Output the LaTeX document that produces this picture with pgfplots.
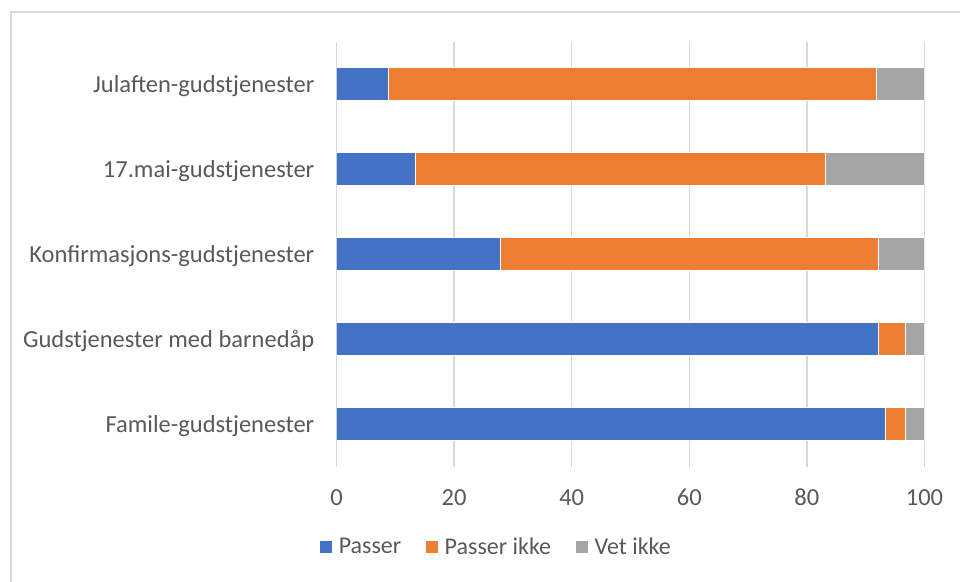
\documentclass[border=0pt]{standalone}
\usepackage{pgfplots}
\pgfplotsset{compat=1.18}
\usepackage{fontspec}
\setmainfont{Carlito}
\definecolor{cblue}{HTML}{4472C4}
\definecolor{corange}{HTML}{ED7D31}
\definecolor{cgray}{HTML}{A5A5A5}
\definecolor{gridgray}{HTML}{D9D9D9}
\definecolor{textgray}{HTML}{595959}
\begin{document}
\begin{tikzpicture}[x=1pt,y=1pt]
\useasboundingbox (0,0) rectangle (960,581);
\draw[color=gridgray, line width=2pt] (10.5,-20) -- (10.5,569) -- (1000,569);
\begin{axis}[
  at={(336.5pt,114.5pt)}, anchor=south west,
  scale only axis, width=588pt, height=425pt,
  xbar stacked, bar width=33pt,
  xmin=0, xmax=100, ymin=-0.5, ymax=4.5,
  xtick={0,20,...,100}, ytick={0,...,4},
  yticklabels={Famile-gudstjenester, Gudstjenester med barnedåp, Konfirmasjons-gudstjenester, 17.mai-gudstjenester, Julaften-gudstjenester},
  xmajorgrids, grid style={gridgray, line width=1.5pt},
  axis line style={draw=none},
  major tick length=0pt, tick style={draw=none},
  /pgf/number format/assume math mode=true,
  ticklabel style={font=\fontsize{24.5}{29}\selectfont, text=textgray},
  xticklabel style={inner sep=0pt, anchor=center, yshift=-31pt},
  yticklabel style={inner sep=0pt, anchor=base east, xshift=-22pt, yshift=-8pt},
  legend columns=3,
  legend style={at={(0.2696,-0.189)}, anchor=center, draw=none, fill=none,
    inner sep=0pt, font=\fontsize{24}{28}\selectfont, text=textgray,
    nodes={inner sep=0pt},
    column sep=6pt,
    /tikz/every even column/.append style={column sep=24pt}},
  legend image code/.code={\fill[#1] (0pt,-6.5pt) rectangle (13pt,6.5pt);},
  every axis plot/.append style={draw=white, line width=0.5pt},
]
\addplot[fill=cblue] coordinates {(93.4,0) (92.1,1) (27.8,2) (13.4,3) (8.8,4)};
\addplot[fill=corange] coordinates {(3.3,0) (4.6,1) (64.3,2) (69.8,3) (83.0,4)};
\addplot[fill=cgray] coordinates {(3.3,0) (3.3,1) (7.9,2) (16.8,3) (8.2,4)};
\legend{Passer, Passer ikke, Vet ikke}
\end{axis}
\end{tikzpicture}
\end{document}
